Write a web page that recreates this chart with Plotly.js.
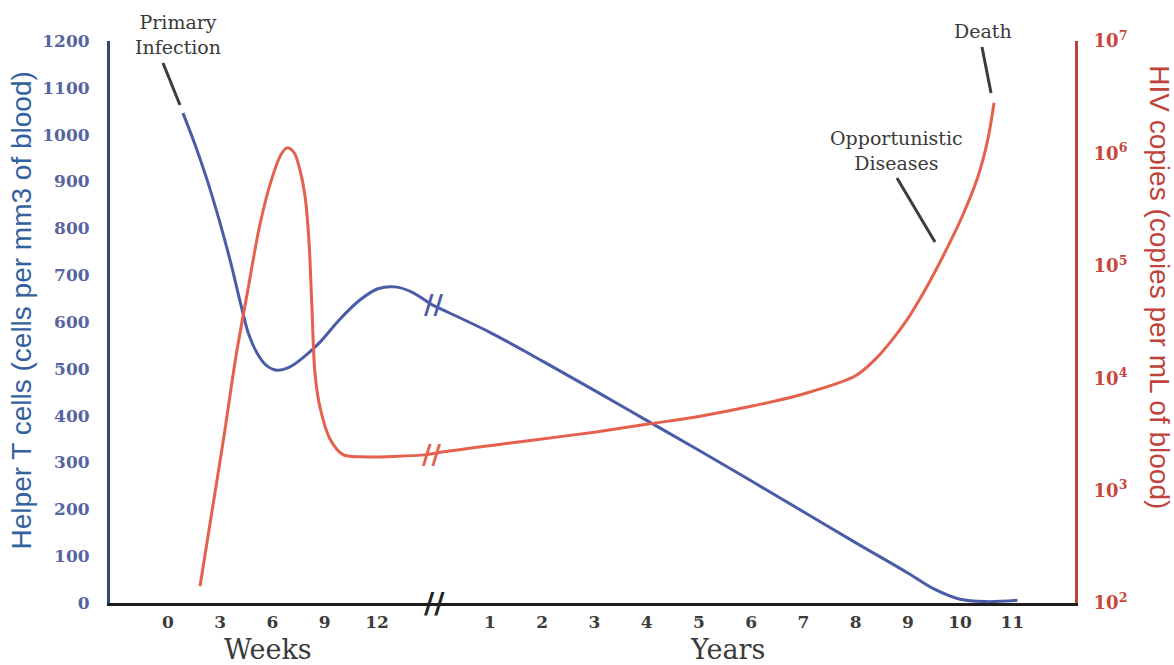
<!DOCTYPE html>
<html>
<head>
<meta charset="utf-8">
<script src="https://cdn.plot.ly/plotly-3.0.1.min.js"></script>
<style>
html,body{margin:0;padding:0;background:#fff;}
#chart{width:1174px;height:665px;}
</style>
</head>
<body>
<div id="chart"></div>
<script>
// ---- tick categories ----
const weekTicks = [0, 3, 6, 9, 12];
const weekTickLabels = ['0', '3', '6', '9', '12'];
const yearTicks = [1, 2, 3, 4, 5, 6, 7, 8, 9, 10, 11];
const yearTickLabels = ['1', '2', '3', '4', '5', '6', '7', '8', '9', '10', '11'];
const tcellTicks = [0, 100, 200, 300, 400, 500, 600, 700, 800, 900, 1000, 1100, 1200];
const hivTicks = [1e2, 1e3, 1e4, 1e5, 1e6, 1e7];
const hivTickLabels = ['10<sup>2</sup>', '10<sup>3</sup>', '10<sup>4</sup>', '10<sup>5</sup>', '10<sup>6</sup>', '10<sup>7</sup>'];

// ---- Helper T cells (cells per mm3), weeks phase ----
const tcellWeeksX = [0.86, 1.55, 2.24, 2.93, 3.62, 4.19, 4.65, 5.11, 5.63, 6.26, 7.00, 7.86, 8.73, 9.87, 11.02, 12.06, 13.03, 14.0, 15.2];
const tcellWeeksY = [1046, 979, 904, 819, 724, 636, 572, 534, 508, 497, 504, 527, 557, 606, 647, 671, 675, 664, 636];
// ---- Helper T cells, years phase ----
const tcellYearsX = [0.06, 1, 2, 3, 4, 5, 6, 7, 8, 9, 9.5, 10, 10.5, 11.1];
const tcellYearsY = [628, 578, 517, 454, 390, 326, 261, 195, 129, 64, 30, 8, 3, 6];

// ---- HIV copies per mL, weeks phase ----
const hivWeeksX = [1.84, 2.53, 3.21, 3.90, 4.59, 5.28, 5.97, 6.49, 6.83, 7.23, 7.58, 7.86, 8.09, 8.27, 8.44, 8.73, 9.30, 10.05, 11.02, 14.87];
const hivWeeksY = [141, 661, 3020, 15500, 61700, 234000, 603000, 977000, 1120000, 1020000, 708000, 427000, 170000, 40700, 11000, 5500, 2880, 2090, 2000, 2090];
// ---- HIV copies per mL, years phase ----
const hivYearsX = [0.06, 1, 2, 3, 4, 5, 6, 7, 8, 8.4, 8.7, 9.0, 9.25, 9.5, 9.83, 10.07, 10.34, 10.53, 10.65];
const hivYearsY = [2190, 2510, 2880, 3310, 3890, 4570, 5620, 7240, 10500, 15100, 21900, 33900, 52500, 85100, 170000, 295000, 617000, 1320000, 2820000];

// ---- broken-axis mapping (weeks and years share one axis) ----
const YEAR_OFFSET = 5.16;
const weekPos = w => w / 3;
const yearPos = y => y + YEAR_OFFSET;

const blue = '#4b5ca6';
const red = '#e5604d';

const tcellX = tcellWeeksX.map(weekPos).concat(tcellYearsX.map(yearPos));
const tcellY = tcellWeeksY.concat(tcellYearsY);
const hivX = hivWeeksX.map(weekPos).concat(hivYearsX.map(yearPos));
const hivY = hivWeeksY.concat(hivYearsY);

const traces = [
  {x: tcellX, y: tcellY, yaxis: 'y', mode: 'lines', name: 'Helper T cells',
   line: {color: blue, width: 3, shape: 'spline', smoothing: 1}, hoverinfo: 'skip'},
  {x: hivX, y: hivY, yaxis: 'y2', mode: 'lines', name: 'HIV copies',
   line: {color: red, width: 3, shape: 'spline', smoothing: 0.9}, hoverinfo: 'skip'}
];

const tickPos = weekTicks.map(weekPos).concat(yearTicks.map(yearPos));
const tickText = weekTickLabels.concat(yearTickLabels);

const serif = 'DejaVu Serif, serif';
const sans = 'Liberation Sans, Arial, sans-serif';
const ink = '#3a3a3a';

const tLast = tcellWeeksX.length - 1;
const hLastW = hivWeeksX.length - 1;

function label(text, x, y, font, extra) {
  return Object.assign({text: text, xref: 'paper', yref: 'paper', x: x, y: y, showarrow: false,
    xanchor: 'center', yanchor: 'middle', font: font}, extra || {});
}

const annotations = [
  // axis titles
  label('Helper T cells (cells per mm3 of blood)', -0.092, 0.521, {family: sans, size: 28, color: '#33609e'}, {textangle: -90}),
  label('HIV copies (copies per mL of blood)', 1.088, 0.562, {family: sans, size: 28, color: '#c0433b'}, {textangle: 90}),
  label('Weeks', 0, -0.083, {family: serif, size: 27, color: ink}, {xref: 'x', x: weekPos(5.75)}),
  label('Years', 0, -0.083, {family: serif, size: 27, color: ink}, {xref: 'x', x: yearPos(5.55)}),
  // event labels
  label('Primary<br>Infection', 0.0705, 1.011, {family: serif, size: 19, color: ink}),
  label('Death', 0.9047, 1.018, {family: serif, size: 19, color: ink}),
  label('Opportunistic<br>Diseases', 0.8155, 0.806, {family: serif, size: 19, color: ink}),
  // break marks
  {text: '//', xref: 'x', yref: 'y', x: weekPos(tcellWeeksX[tLast]), y: tcellWeeksY[tLast], showarrow: false,
   xanchor: 'center', yanchor: 'middle',
   font: {family: 'DejaVu Sans, sans-serif', size: 26, color: blue, weight: 'bold'}, xshift: 1},
  {text: '//', xref: 'x', yref: 'y2', x: weekPos(hivWeeksX[hLastW]), y: Math.log10(hivWeeksY[hLastW]), showarrow: false,
   xanchor: 'center', yanchor: 'middle',
   font: {family: 'DejaVu Sans, sans-serif', size: 26, color: red, weight: 'bold'}, xshift: 5},
  {text: '//', xref: 'x', yref: 'paper', x: 5.1, y: 0, showarrow: false,
   xanchor: 'center', yanchor: 'middle',
   font: {family: 'DejaVu Sans, sans-serif', size: 28, color: '#222', weight: 'bold'}}
];

// pointer lines from the event labels (paper coordinates)
const pointer = (x0, y0, x1, y1) => ({type: 'line', xref: 'paper', yref: 'paper', x0: x0, y0: y0, x1: x1, y1: y1,
  line: {color: '#3c3c3c', width: 3}});
const shapes = [
  pointer(0.0549, 0.9609, 0.0725, 0.8861),
  pointer(0.9036, 0.9893, 0.9130, 0.9075),
  pointer(0.8155, 0.7562, 0.8549, 0.6423)
];

const layout = {
  width: 1174, height: 665,
  margin: {l: 110, r: 99, t: 41, b: 62, pad: 0},
  paper_bgcolor: '#fff', plot_bgcolor: '#fff',
  showlegend: false,
  xaxis: {
    range: [-1.11, 17.36], showgrid: false, zeroline: false,
    showline: true, linecolor: '#1e1e1e', linewidth: 3,
    tickmode: 'array', tickvals: tickPos, ticktext: tickText, ticks: '',
    ticklabelstandoff: 2,
    tickfont: {family: serif, size: 17, color: '#3c3c3c', weight: 'bold'}
  },
  yaxis: {
    range: [0, 1200], showgrid: false, zeroline: false,
    showline: true, linecolor: '#2d4b78', linewidth: 3,
    tickmode: 'array', tickvals: tcellTicks, ticks: '',
    ticklabelstandoff: 14,
    tickfont: {family: serif, size: 17, color: '#56649f', weight: 'bold'}
  },
  yaxis2: {
    type: 'log', range: [2, 7], overlaying: 'y', side: 'right',
    showgrid: false, zeroline: false,
    showline: true, linecolor: '#b8423c', linewidth: 3,
    tickmode: 'array', tickvals: hivTicks, ticktext: hivTickLabels, ticks: '',
    ticklabelstandoff: 12,
    tickfont: {family: serif, size: 18, color: '#c8463c', weight: 'bold'}
  },
  annotations: annotations,
  shapes: shapes
};

Plotly.newPlot('chart', traces, layout, {displayModeBar: false, staticPlot: true});
</script>
</body>
</html>
